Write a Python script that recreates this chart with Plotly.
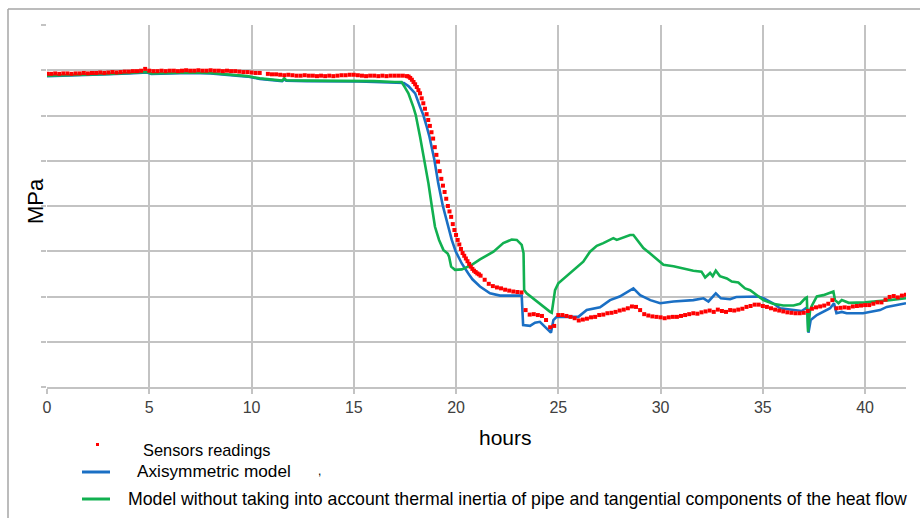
import plotly.graph_objects as go

# ---------------- data ----------------
red_hours = [
    0.0, 0.2, 0.4, 0.6, 0.8, 1.0, 1.2, 1.4, 1.6, 1.8,
    2.0, 2.2, 2.4, 2.6, 2.8, 3.0, 3.2, 3.4, 3.6, 3.8,
    4.0, 4.2, 4.4, 4.6, 4.8, 5.0, 5.2, 5.4, 5.6, 5.8,
    6.0, 6.2, 6.4, 6.6, 6.8, 7.0, 7.2, 7.4, 7.6, 7.8,
    8.0, 8.2, 8.4, 8.6, 8.8, 9.0, 9.2, 9.4, 9.6, 9.8,
    10.0, 10.2, 10.4, 10.8, 11.0, 11.2, 11.4, 11.6, 11.8,
    12.0, 12.2, 12.4, 12.6, 12.8, 13.0, 13.2, 13.4, 13.6, 13.8,
    14.0, 14.2, 14.4, 14.6, 14.8, 15.0, 15.2, 15.4, 15.6, 15.8,
    16.0, 16.2, 16.4, 16.6, 16.8, 17.0, 17.2, 17.4,
    17.60, 17.68, 17.76, 17.84, 17.92, 18.00, 18.08, 18.16, 18.24, 18.32,
    18.40, 18.48, 18.56, 18.64, 18.72, 18.80, 18.88, 18.96, 19.04, 19.12,
    19.20, 19.28, 19.36, 19.44, 19.52, 19.60, 19.68, 19.76, 19.84, 19.92,
    20.00, 20.08, 20.16, 20.24, 20.32, 20.40, 20.48, 20.56, 20.64, 20.72,
    20.80, 20.88, 20.96, 21.04, 21.12, 21.20,
    21.4, 21.6, 21.8, 22.0, 22.2, 22.4, 22.6, 22.8, 23.0, 23.2,
    23.4, 23.6, 23.8, 24.0, 24.2, 24.4, 24.6, 24.8, 25.0, 25.2,
    25.4, 25.6, 25.8, 26.0, 26.2, 26.4, 26.6, 26.8, 27.0, 27.2,
    27.4, 27.6, 27.8, 28.0, 28.2, 28.4, 28.6, 28.8, 29.0, 29.2,
    29.4, 29.6, 29.8, 30.0, 30.2, 30.4, 30.6, 30.8, 31.0, 31.2,
    31.4, 31.6, 31.8, 32.0, 32.2, 32.4, 32.6, 32.8, 33.0, 33.2,
    33.4, 33.6, 33.8, 34.0, 34.2, 34.4, 34.6, 34.8, 35.0, 35.2,
    35.4, 35.6, 35.8, 36.0, 36.2, 36.4, 36.6, 36.8, 37.0, 37.2,
    37.4, 37.6, 37.8, 38.0, 38.2, 38.4, 38.6, 38.8, 39.0, 39.2,
    39.4, 39.6, 39.8, 40.0, 40.2, 40.4, 40.6, 40.8, 41.0, 41.2,
    41.4, 41.6, 41.8, 42.0,
]
red_mpa = [
    6.92, 6.92, 6.93, 6.92, 6.93, 6.93, 6.92, 6.93, 6.93, 6.94,
    6.93, 6.94, 6.94, 6.95, 6.94, 6.95, 6.96, 6.95, 6.96, 6.97,
    6.97, 6.98, 6.98, 6.99, 7.03, 6.99, 6.98, 6.98, 6.99, 6.98,
    6.99, 6.99, 6.98, 6.99, 7.00, 6.99, 6.99, 7.00, 6.99, 6.99,
    7.00, 6.99, 6.99, 6.98, 6.99, 6.98, 6.98, 6.97, 6.96, 6.96,
    6.95, 6.94, 6.94, 6.92, 6.91, 6.91, 6.90, 6.89, 6.90,
    6.89, 6.88, 6.88, 6.89, 6.88, 6.88, 6.87, 6.88, 6.87, 6.88,
    6.87, 6.88, 6.89, 6.89, 6.90, 6.90, 6.89, 6.88, 6.87, 6.88,
    6.88, 6.87, 6.88, 6.87, 6.88, 6.88, 6.88, 6.88,
    6.87, 6.86, 6.83, 6.79, 6.74, 6.69, 6.63, 6.56, 6.49, 6.38,
    6.27, 6.15, 6.03, 5.90, 5.77, 5.63, 5.49, 5.30, 5.13, 4.98,
    4.77, 4.60, 4.45, 4.31, 4.16, 4.00, 3.88, 3.76, 3.60, 3.47,
    3.36, 3.25, 3.15, 3.05, 2.96, 2.90, 2.84, 2.78, 2.72, 2.66,
    2.61, 2.57, 2.54, 2.51, 2.49, 2.46,
    2.37, 2.28, 2.23, 2.20, 2.18, 2.15, 2.13, 2.11, 2.10, 2.09,
    1.70, 1.60, 1.61, 1.59, 1.57, 1.48, 1.32, 1.35, 1.59, 1.59,
    1.57, 1.55, 1.52, 1.47, 1.49, 1.51, 1.54, 1.55, 1.59, 1.60,
    1.63, 1.64, 1.66, 1.69, 1.71, 1.74, 1.78, 1.77, 1.70, 1.61,
    1.58, 1.56, 1.55, 1.54, 1.52, 1.54, 1.55, 1.55, 1.57, 1.59,
    1.61, 1.63, 1.62, 1.65, 1.67, 1.69, 1.66, 1.71, 1.68, 1.66,
    1.70, 1.69, 1.71, 1.73, 1.77, 1.79, 1.82, 1.82, 1.79, 1.77,
    1.74, 1.71, 1.69, 1.67, 1.65, 1.64, 1.63, 1.63, 1.64, 1.68,
    1.73, 1.76, 1.78, 1.80, 1.84, 1.92, 1.74, 1.75, 1.76, 1.75,
    1.78, 1.79, 1.80, 1.81, 1.81, 1.84, 1.87, 1.87, 1.93, 1.99,
    2.01, 1.98, 2.02, 2.04,
]

blue_hours = [
    0.0, 1.0, 2.0, 3.0, 4.0, 4.9, 5.1, 6.0, 7.0, 8.0, 9.0, 9.8, 10.4, 11.0,
    11.5, 11.6, 11.7, 12.7, 14.0, 15.2, 16.0, 17.0, 17.26, 17.45, 17.67,
    18.0, 18.24, 18.4, 18.57, 18.7, 18.94, 19.13, 19.35, 19.62, 19.79,
    19.98, 20.28, 20.6, 20.8, 21.17, 21.66, 22.15, 23.21, 23.28, 23.62,
    23.86, 24.1, 24.35, 24.64, 24.76, 24.92, 25.98, 26.39, 27.04, 27.53,
    28.0, 28.67, 29.0, 29.5, 29.98, 30.63, 31.6, 32.1, 32.34, 32.7, 32.95,
    33.4, 33.7, 34.3, 34.77, 35.03, 35.5, 35.84, 36.66, 36.9, 37.1, 37.18,
    37.23, 37.34, 37.64, 38.29, 38.48, 38.6, 38.86, 39.1, 39.9, 40.73,
    41.06, 42.0,
]
blue_mpa = [
    6.87, 6.88, 6.89, 6.91, 6.93, 6.95, 6.92, 6.93, 6.94, 6.93, 6.90, 6.86, 6.81, 6.78,
    6.76, 6.80, 6.77, 6.76, 6.76, 6.75, 6.74, 6.72, 6.73, 6.72, 6.65,
    6.49, 6.19, 6.01, 5.75, 5.53, 5.02, 4.50, 4.01, 3.54, 3.25,
    3.00, 2.73, 2.51, 2.38, 2.22, 2.07, 2.02, 2.02, 1.37, 1.35,
    1.42, 1.44, 1.33, 1.20, 1.48, 1.55, 1.55, 1.70, 1.76, 1.92,
    2.00, 2.18, 2.03, 1.92, 1.85, 1.89, 1.92, 1.96, 1.89, 2.07, 1.96,
    1.94, 1.99, 1.99, 2.00, 1.96, 1.85, 1.74, 1.70, 1.68, 1.74, 1.72,
    1.20, 1.48, 1.59, 1.74, 1.85, 1.63, 1.66, 1.63, 1.63, 1.70,
    1.77, 1.85,
]

green_hours = [
    0.0, 1.0, 2.0, 3.0, 4.0, 4.9, 5.1, 6.0, 7.0, 8.0, 9.0, 9.8, 10.4, 11.0,
    11.5, 11.6, 11.7, 12.7, 14.0, 15.2, 16.0, 17.0, 17.34, 17.5, 17.67,
    17.91, 18.03, 18.24, 18.45, 18.65, 18.81, 18.97, 19.17, 19.38, 19.59,
    19.66, 19.76, 19.95, 20.28, 20.77, 21.17, 21.83, 22.31, 22.72, 22.97,
    23.21, 23.30, 23.33, 23.45, 23.94, 24.6, 24.68, 24.84, 25.0, 25.57,
    26.22, 26.55, 26.88, 27.2, 27.5, 27.69, 27.86, 28.2, 28.51, 28.67,
    28.91, 29.16, 29.49, 29.98, 30.14, 30.63, 31.1, 31.6, 32.0, 32.18,
    32.42, 32.55, 32.7, 32.9, 33.24, 33.48, 33.8, 34.13, 34.38, 34.7,
    35.03, 35.5, 36.0, 36.5, 36.82, 37.07, 37.15, 37.21, 37.31, 37.4,
    37.64, 37.96, 38.45, 38.53, 38.7, 38.86, 39.2, 40.0, 40.57, 41.2, 42.0,
]
green_mpa = [
    6.88, 6.89, 6.90, 6.92, 6.94, 6.96, 6.93, 6.94, 6.95, 6.94, 6.91, 6.87, 6.82, 6.79,
    6.77, 6.82, 6.78, 6.77, 6.77, 6.76, 6.76, 6.74, 6.74, 6.62, 6.49,
    6.19, 6.01, 5.53, 5.02, 4.50, 4.01, 3.54, 3.25, 3.03, 2.95,
    2.88, 2.66, 2.59, 2.60, 2.70, 2.82, 2.99, 3.18, 3.26, 3.25,
    3.14, 2.96, 2.14, 2.07, 1.89, 1.66, 1.64, 2.14, 2.29, 2.51,
    2.77, 2.99, 3.12, 3.18, 3.24, 3.29, 3.25, 3.30, 3.36, 3.36,
    3.21, 3.07, 2.95, 2.75, 2.70, 2.67, 2.62, 2.57, 2.55, 2.42,
    2.52, 2.45, 2.57, 2.45, 2.40, 2.33, 2.31, 2.18, 2.14, 2.03,
    1.92, 1.84, 1.80, 1.80, 1.84, 1.96, 1.98, 1.22, 1.70, 1.80,
    2.00, 2.03, 2.11, 1.92, 1.85, 1.92, 1.86, 1.87, 1.89, 1.92, 1.96,
]

x_ticks = [0, 5, 10, 15, 20, 25, 30, 35, 40]
series_names = [
    "Sensors readings",
    "Axisymmetric model",
    "Model without taking into account thermal inertia of pipe and tangential components of the heat flow",
]

# ---------------- styling ----------------
RED = "#ff0000"
BLUE = "#1a6fc4"
GREEN = "#11b050"
GRID = "#c3c3c3"
FONT = "Liberation Sans, Arial, sans-serif"

W, H = 920, 518
L, R, T, B = 47, 14, 25, 131
PW, PH = W - L - R, H - T - B


def P(px, py):
    """pixel position -> paper coordinates"""
    return (px - L) / PW, (H - B - py) / PH


fig = go.Figure()
fig.add_trace(go.Scatter(x=blue_hours, y=blue_mpa, mode="lines", name=series_names[1],
                         line=dict(color=BLUE, width=2.6), showlegend=False))
fig.add_trace(go.Scatter(x=green_hours, y=green_mpa, mode="lines", name=series_names[2],
                         line=dict(color=GREEN, width=2.6), showlegend=False))
fig.add_trace(go.Scatter(x=red_hours, y=red_mpa, mode="markers", name=series_names[0],
                         marker=dict(color=RED, size=4, symbol="square", line=dict(width=0)),
                         showlegend=False))

shapes = []
# outer frame (left and top edges of the chart box)
x0, y0 = P(8, 9)
x1, y1 = P(930, 530)
shapes.append(dict(type="line", xref="paper", yref="paper", x0=x0, y0=y0, x1=x1, y1=y0,
                   line=dict(color="#a6a6a6", width=1.5)))
shapes.append(dict(type="line", xref="paper", yref="paper", x0=x0, y0=y0, x1=x0, y1=y1,
                   line=dict(color="#a6a6a6", width=1.5)))
# legend keys
rx0, ry0 = P(96, 446)
rx1, ry1 = P(99, 443)
shapes.append(dict(type="rect", xref="paper", yref="paper", x0=rx0, y0=ry0, x1=rx1, y1=ry1,
                   fillcolor=RED, line=dict(width=0)))
for color, py in ((BLUE, 472), (GREEN, 499)):
    ax0, ay = P(82, py)
    ax1, _ = P(110, py)
    shapes.append(dict(type="line", xref="paper", yref="paper", x0=ax0, y0=ay, x1=ax1, y1=ay,
                       line=dict(color=color, width=3)))

annotations = []


def add_text(text, px, py, size, anchor="left", angle=0):
    x, y = P(px, py)
    annotations.append(dict(text=text, x=x, y=y, xref="paper", yref="paper", showarrow=False,
                            xanchor=anchor, yanchor="middle", textangle=angle,
                            font=dict(family=FONT, size=size, color="#000000"),
                            borderpad=0))


add_text("MPa", 35, 201, 22, anchor="center", angle=-90)
add_text("hours", 505, 437, 21, anchor="center")
add_text(series_names[0], 142, 450, 16.4)
add_text(series_names[1], 136, 471, 17.2)
add_text(",", 317, 471, 12)
add_text(series_names[2], 127, 499, 17.7)

fig.update_layout(
    width=W, height=H,
    margin=dict(l=L, r=R, t=T, b=B, pad=0),
    paper_bgcolor="white", plot_bgcolor="white",
    showlegend=False,
    shapes=shapes,
    annotations=annotations,
    font=dict(family=FONT),
)
fig.update_xaxes(range=[0, 42], tickvals=x_ticks, ticktext=[str(v) for v in x_ticks],
                 showgrid=True, gridcolor=GRID, gridwidth=1.5, zeroline=False,
                 showline=True, linecolor=GRID, linewidth=1.5,
                 ticks="outside", ticklen=5, tickcolor=GRID, tickwidth=1.5,
                 tickfont=dict(family=FONT, size=16, color="#404040"))
fig.update_yaxes(range=[0, 8], dtick=1, tick0=0, showticklabels=False,
                 showgrid=True, gridcolor=GRID, gridwidth=1.5, zeroline=False,
                 showline=False, ticks="outside", ticklen=5, tickcolor=GRID, tickwidth=1.5)

fig.write_html("out.html")
